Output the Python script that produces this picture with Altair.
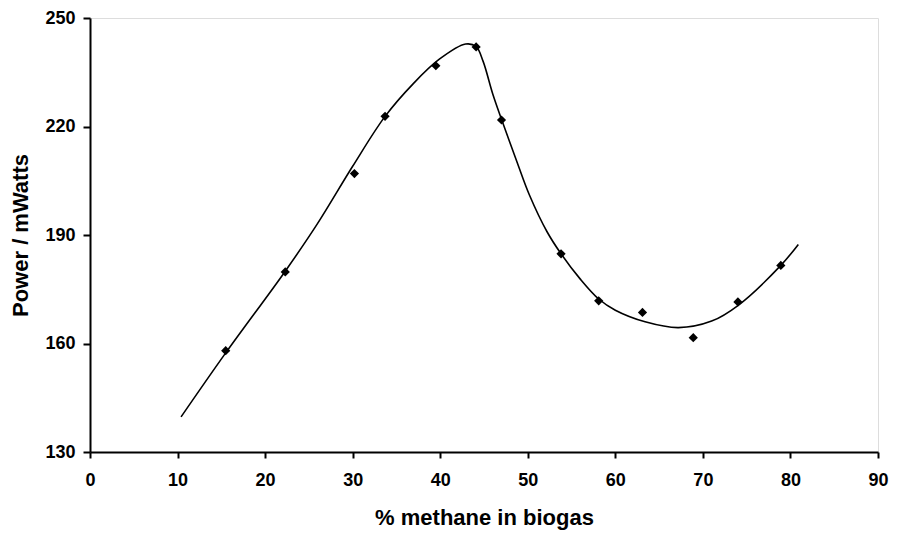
import altair as alt
import pandas as pd

# measured data points (% methane, power mW)
pt_x = [15.5, 22.3, 30.2, 33.7, 39.5, 44.1, 47.0, 53.8, 58.1, 63.1, 68.9, 74.0, 78.9]
pt_y = [158.0, 179.8, 207.0, 222.8, 236.8, 242.0, 221.8, 184.8, 171.8, 168.6, 161.6, 171.5, 181.6]

# fitted curve
cv_x = [10.4, 15.5, 22.3, 26.0, 30.0, 33.7, 36.9, 39.9, 42.9, 44.1, 44.9,
        46.0, 47.0, 48.8, 50.2, 52.2, 53.8, 56.0, 58.1, 60.0, 63.4, 67.2, 71.0, 74.0,
        78.9, 80.9]
cv_y = [139.7, 157.4, 180.0, 193.2, 209.0, 222.8, 231.8, 238.6, 242.8, 242.1, 238.0,
        229.0, 222.0, 210.0, 201.0, 190.9, 184.8, 177.8, 172.3, 169.2, 166.0, 164.4,
        166.2, 170.5, 181.6, 187.4]

x_ticks = [0, 10, 20, 30, 40, 50, 60, 70, 80, 90]
y_ticks = [130, 160, 190, 220, 250]

pts = pd.DataFrame({"x": pt_x, "y": pt_y})
curve = pd.DataFrame({"x": cv_x, "y": cv_y})

FONT = "Liberation Sans"

xscale = alt.Scale(domain=[0, 90], nice=False, zero=False)
yscale = alt.Scale(domain=[130, 250], nice=False, zero=False)

xaxis = alt.Axis(
    title="% methane in biogas", values=x_ticks, grid=False,
    domainColor="black", domainWidth=2, tickColor="black", tickWidth=2, tickSize=6,
    labelFont=FONT, labelFontSize=18, labelFontWeight="bold", labelColor="black",
    labelPadding=13, labelFlush=False,
    titleFont=FONT, titleFontSize=22, titleFontWeight="bold", titleColor="black",
    titleBaseline="alphabetic", titleY=72,
)
yaxis = alt.Axis(
    title="Power / mWatts", values=y_ticks, grid=False,
    domainColor="black", domainWidth=2, tickColor="black", tickWidth=2, tickSize=7,
    labelFont=FONT, labelFontSize=18, labelFontWeight="bold", labelColor="black",
    labelPadding=8, labelFlush=False,
    titleFont=FONT, titleFontSize=22, titleFontWeight="bold", titleColor="black",
    titleBaseline="alphabetic", titleX=-63, titleY=217,
)

line = alt.Chart(curve).mark_line(color="black", strokeWidth=1.6, interpolate="catmull-rom").encode(
    x=alt.X("x:Q", scale=xscale, axis=xaxis),
    y=alt.Y("y:Q", scale=yscale, axis=yaxis),
)
points = alt.Chart(pts).mark_point(shape="diamond", filled=True, color="black", size=85, opacity=1).encode(
    x=alt.X("x:Q", scale=xscale),
    y=alt.Y("y:Q", scale=yscale),
)

chart = (line + points).properties(
    width=788, height=434,
    autosize=alt.AutoSizeParams(type="none"),
    padding={"left": 82, "top": 10, "right": 11, "bottom": 78},
).configure_view(stroke=None).configure(background="white")

chart.save("out.html", embed_options={"renderer": "svg", "actions": False})
